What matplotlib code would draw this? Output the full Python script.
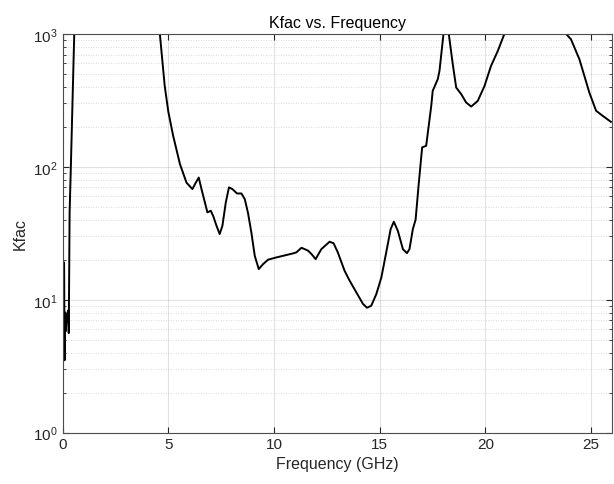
import matplotlib.pyplot as plt
from matplotlib.ticker import LogLocator, NullFormatter

plt.rcParams['font.family'] = ['Liberation Sans', 'DejaVu Sans']

# Kfac sweep, frequency in GHz (values above 1e3 run off the top of the plot)
freq = [0.07, 0.09, 0.12, 0.15, 0.19, 0.26, 0.29, 0.33, 0.39, 0.47, 0.55, 0.70,
        2.5, 4.40, 4.60, 4.83, 5.00, 5.23, 5.55, 5.86, 6.14, 6.30, 6.44, 6.57,
        6.73, 6.85, 7.01, 7.12, 7.28, 7.43, 7.56, 7.72, 7.87, 8.03, 8.25, 8.46,
        8.62, 8.77, 8.93, 9.09, 9.28, 9.48, 9.72, 10.11, 10.59, 10.90, 11.06,
        11.30, 11.61, 11.77, 11.97, 12.24, 12.63, 12.82, 13.02, 13.34, 13.58,
        13.89, 14.21, 14.40, 14.60, 14.84, 15.08, 15.31, 15.52, 15.67, 15.86,
        16.10, 16.29, 16.41, 16.57, 16.70, 16.85, 17.01, 17.20, 17.44, 17.51,
        17.75, 17.83, 18.02, 18.14, 18.27, 18.46, 18.62, 18.86, 19.09, 19.33,
        19.64, 19.96, 20.27, 20.59, 20.90, 21.30, 23.40, 23.82, 24.05, 24.45,
        24.92, 25.24, 25.55, 25.94]
kfac = [19, 3.5, 8, 5.8, 7.5, 8.3, 5.6, 45, 101, 320, 1000, 3000,
        8000, 3000, 1000, 406, 260, 171, 105, 76, 68, 76, 83, 68,
        54, 45.4, 46.7, 42.8, 36, 31.2, 36, 54, 70, 68, 63, 63,
        57, 45, 32, 21.4, 17, 18.5, 20, 20.8, 21.7, 22.3, 22.7,
        24.6, 23.4, 22.1, 20.2, 24, 27.3, 26.6, 22.7, 16.5, 13.9,
        11.4, 9.3, 8.7, 9.0, 11.0, 14.7, 22.7, 34, 38.6, 33,
        24, 22.4, 24, 34, 40, 75, 140, 144, 287, 373,
        457, 527, 1000, 1300, 1000, 590, 395, 352, 305, 284,
        313, 406, 575, 745, 1000, 1500, 1500, 1000, 912, 645,
        362, 264, 242, 218]

fig = plt.figure(figsize=(6.14, 4.85), dpi=100)
ax = fig.add_axes([0.102, 0.106, 0.895, 0.822])

ax.plot(freq, kfac, color='black', linewidth=1.4)
ax.set_yscale('log')
ax.set_xlim(0, 26)
ax.set_ylim(1, 1000)
ax.set_xticks([0, 5, 10, 15, 20, 25])
ax.yaxis.set_minor_locator(LogLocator(base=10, subs=range(2, 10)))
ax.yaxis.set_minor_formatter(NullFormatter())

ax.grid(True, which='major', color='#262626', alpha=0.13, linewidth=0.8)
ax.grid(True, which='minor', axis='y', color='#262626', alpha=0.22,
        linestyle=(0, (1, 2)), linewidth=0.6)

axis_col = '#262626'
for s in ax.spines.values():
    s.set_color('#4d4d4d')
    s.set_linewidth(0.8)
ax.tick_params(which='both', direction='in', top=True, right=True,
               colors=axis_col, labelsize=11)
ax.tick_params(which='major', length=4)
ax.tick_params(which='minor', length=2.5)

ax.set_title('Kfac vs. Frequency', fontsize=11.5, color='black', pad=5)
ax.set_xlabel('Frequency (GHz)', fontsize=11.5, color=axis_col, labelpad=3)
ax.set_ylabel('Kfac', fontsize=11.5, color=axis_col, labelpad=4)

fig.savefig('out.png', dpi=100, facecolor='white')
